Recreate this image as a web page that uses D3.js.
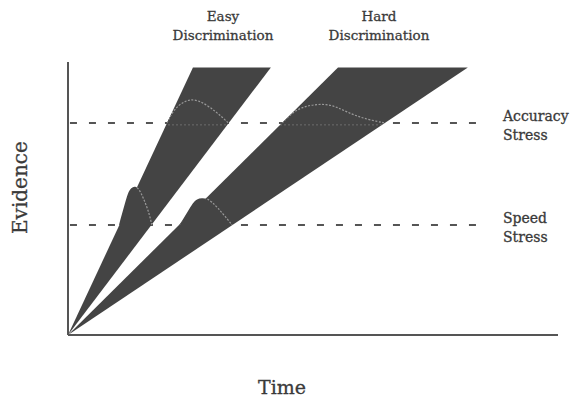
<!DOCTYPE html>
<html>
<head>
<meta charset="utf-8">
<script src="https://cdn.jsdelivr.net/npm/d3@7"></script>
<style>
  body { margin: 0; background: #fff; }
  text { font-family: "DejaVu Serif", serif; fill: #3a3a3a; stroke: #3a3a3a; stroke-width: 0.3px; }
</style>
</head>
<body>
<div id="vis"></div>
<script>
// Evidence accumulation wedges (time / evidence units, 0-100)
const wedgeNames = ["Easy", "Hard"];
const wedgeTop = 98;
const wedgeSlowTime = [25.5, 55.1];   // time at which slowest rate reaches the top
const wedgeFastTime = [41.4, 81.6];   // time at which fastest rate reaches the top

const thresholdNames = ["Accuracy", "Speed"];
const thresholdLevels = [77.7, 40.3];
const thresholdEnd = 83.5;

// finishing-time distributions drawn on each threshold (time, height above threshold)
const easySpeedT = [10.4, 11.0, 11.6, 12.2, 12.9, 13.7, 14.5, 15.3, 16.1, 16.7, 17.1];
const easySpeedH = [0, 4.0, 7.7, 11.7, 13.7, 14.3, 13.2, 10.2, 6.6, 3.3, 0];
const hardSpeedT = [22.7, 23.5, 24.5, 25.5, 26.3, 27.3, 28.4, 29.4, 30.6, 32.0, 33.5];
const hardSpeedH = [0, 2.2, 5.1, 8.1, 9.5, 9.9, 9.7, 8.4, 6.2, 3.3, 0];
const easyAccT = [20.2, 21.2, 22.4, 23.9, 25.3, 26.9, 28.6, 30.2, 31.4, 32.7];
const easyAccH = [0, 3.6, 6.2, 8.0, 8.6, 8.0, 6.2, 4.0, 2.2, 0];
const hardAccT = [43.7, 45.7, 47.8, 50.2, 52.7, 54.9, 56.9, 59.2, 61.6, 64.5];
const hardAccH = [0, 3.6, 5.8, 6.7, 6.9, 5.8, 4.0, 2.3, 1.1, 0];

const topLabels = [["Easy", "Discrimination"], ["Hard", "Discrimination"]];
const topLabelX = [223, 379];
const sideLabels = [["Accuracy", "Stress"], ["Speed", "Stress"]];

const width = 572;
const height = 399;
const margin = { top: 62, right: 14, bottom: 64, left: 68 };

const svg = d3.select("#vis")
  .append("svg")
  .attr("width", width)
  .attr("height", height);

const x = d3.scaleLinear().domain([0, 100]).range([margin.left, width - margin.right]);
const y = d3.scaleLinear().domain([0, 100]).range([height - margin.bottom, margin.top]);

const wedgeColor = "#444";
const inkColor = "#555";

const curves = [
  { wedge: 0, level: 0, t: easyAccT, h: easyAccH },
  { wedge: 1, level: 0, t: hardAccT, h: hardAccH },
  { wedge: 0, level: 1, t: easySpeedT, h: easySpeedH },
  { wedge: 1, level: 1, t: hardSpeedT, h: hardSpeedH }
];

const wedgePoints = i => [[0, 0], [wedgeSlowTime[i], wedgeTop], [wedgeFastTime[i], wedgeTop]];
const polyLine = d3.line().x(d => x(d[0])).y(d => y(d[1]));

// Threshold lines (dark, under the wedges)
svg.append("g")
  .selectAll("line")
  .data(thresholdLevels)
  .join("line")
  .attr("x1", x(0.4))
  .attr("x2", x(thresholdEnd))
  .attr("y1", d => y(d))
  .attr("y2", d => y(d))
  .attr("stroke", inkColor)
  .attr("stroke-width", 2)
  .attr("stroke-dasharray", "7,12");

// Clip path for the wedge interiors
const defs = svg.append("defs");
const clip = defs.append("clipPath").attr("id", "wedges");
wedgeNames.forEach((n, i) => {
  clip.append("path").attr("d", polyLine(wedgePoints(i)) + "Z");
});

// Wedges
svg.append("g")
  .selectAll("path")
  .data(wedgeNames)
  .join("path")
  .attr("d", (d, i) => polyLine(wedgePoints(i)) + "Z")
  .attr("fill", wedgeColor);

// Distribution humps (area above threshold, same fill)
const area = d3.area()
  .x(d => x(d.t))
  .y0(d => y(d.base))
  .y1(d => y(d.base + d.h))
  .curve(d3.curveBasis);

const curveData = c => c.t.map((t, i) => ({ t, h: c.h[i], base: thresholdLevels[c.level] }));

svg.append("g")
  .selectAll("path")
  .data(curves)
  .join("path")
  .attr("d", c => area(curveData(c)))
  .attr("fill", wedgeColor);

// faint light trace of the accuracy line through the wedges
svg.append("line")
  .attr("clip-path", "url(#wedges)")
  .attr("x1", x(0))
  .attr("x2", x(thresholdEnd))
  .attr("y1", y(thresholdLevels[0]) + 2)
  .attr("y2", y(thresholdLevels[0]) + 2)
  .attr("stroke", "#888")
  .attr("stroke-width", 1)
  .attr("stroke-dasharray", "2,2")
  .attr("opacity", 0.6);

// Light dashed distribution outlines inside the wedges
const line = d3.line()
  .x(d => x(d.t))
  .y(d => y(d.base + d.h))
  .curve(d3.curveBasis);

svg.append("g")
  .attr("clip-path", "url(#wedges)")
  .selectAll("path")
  .data(curves)
  .join("path")
  .attr("d", c => line(curveData(c)))
  .attr("fill", "none")
  .attr("stroke", "#9a9a9a")
  .attr("stroke-width", 1.2)
  .attr("stroke-dasharray", "2,1.5");

// Axes (plain lines, no ticks)
svg.append("line")
  .attr("x1", x(0)).attr("x2", x(0))
  .attr("y1", y(0)).attr("y2", y(100))
  .attr("stroke", inkColor)
  .attr("stroke-width", 2);

svg.append("line")
  .attr("x1", x(0)).attr("x2", x(100))
  .attr("y1", y(0)).attr("y2", y(0))
  .attr("stroke", inkColor)
  .attr("stroke-width", 2);

// Axis titles
svg.append("text")
  .attr("transform", `translate(27, ${y(54)}) rotate(-90)`)
  .attr("text-anchor", "middle")
  .attr("font-size", "20px")
  .text("Evidence");

svg.append("text")
  .attr("x", 282)
  .attr("y", 394)
  .attr("text-anchor", "middle")
  .attr("font-size", "19px")
  .text("Time");

// Discrimination labels
topLabels.forEach((lines, i) => {
  lines.forEach((s, j) => {
    svg.append("text")
      .attr("x", topLabelX[i])
      .attr("y", 21 + j * 19)
      .attr("text-anchor", "middle")
      .attr("font-size", "13.5px")
      .text(s);
  });
});

// Stress labels
sideLabels.forEach((lines, i) => {
  lines.forEach((s, j) => {
    svg.append("text")
      .attr("x", 503)
      .attr("y", y(thresholdLevels[i]) - 2 + j * 19)
      .attr("font-size", "14px")
      .text(s);
  });
});
</script>
</body>
</html>
